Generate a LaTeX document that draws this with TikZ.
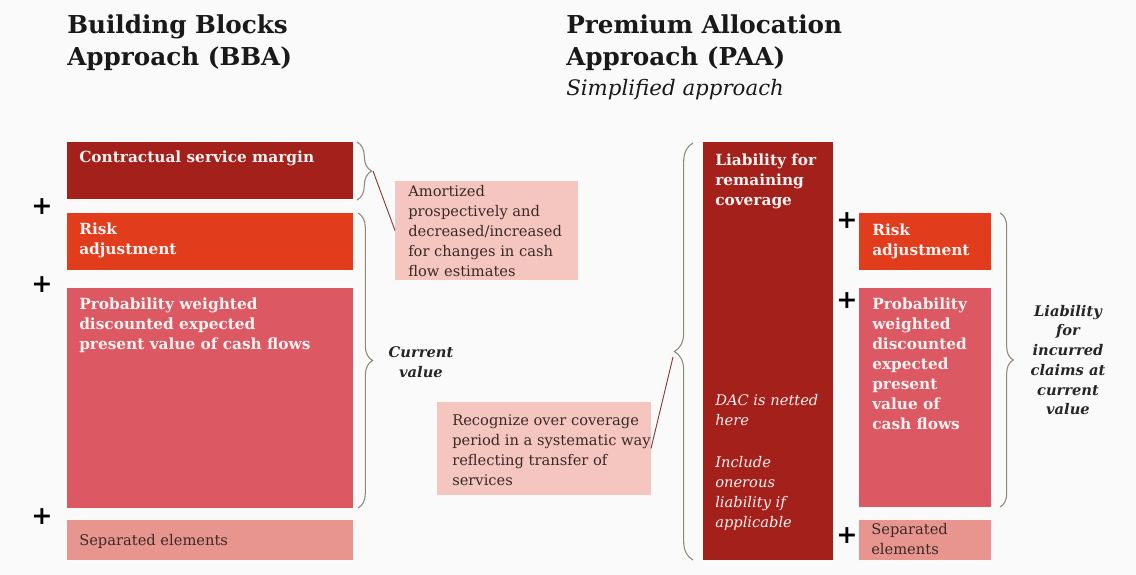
\documentclass[tikz,border=0pt]{standalone}
\usepackage{fontspec}
\setmainfont{DejaVu Serif}
\usetikzlibrary{decorations.pathreplacing,calc}
\definecolor{bgc}{HTML}{FAFAFA}
\definecolor{csmc}{HTML}{A4201B}
\definecolor{rac}{HTML}{E13C1C}
\definecolor{pvc}{HTML}{DC5862}
\definecolor{sepc}{HTML}{E8958F}
\definecolor{notec}{HTML}{F5C6BF}
\definecolor{bracec}{HTML}{8F887A}
\definecolor{linkc}{HTML}{8E3A36}
\definecolor{darktxt}{HTML}{3A2926}
\definecolor{wtxt}{HTML}{FDF3F2}
\newcommand\mkblk[6]{\node[fill=#6,inner sep=0pt,outer sep=0pt,anchor=north west,minimum width={(#4-#2)*0.75pt},minimum height={(#5-#3)*0.75pt}] (#1) at (#2,#3) {};}
\begin{document}
\begin{tikzpicture}[x=0.75pt,y=-0.75pt,
  boxtxt/.style={anchor=north west,inner sep=0pt,align=left,text=wtxt,font=\fontsize{11.5}{15}\selectfont\bfseries},
  boxit/.style={anchor=north west,inner sep=0pt,align=left,text=wtxt,font=\fontsize{11}{15}\selectfont\itshape},
  notetxt/.style={anchor=north west,inner sep=0pt,align=left,text=darktxt,font=\fontsize{11}{15}\selectfont},
  sidetxt/.style={inner sep=0pt,align=center,text=black!85,font=\fontsize{11}{14.8}\selectfont\bfseries\itshape},
  titletxt/.style={anchor=north west,inner sep=0pt,align=left,text=black!90,font=\fontsize{18.5}{24.5}\selectfont\bfseries},
  plussign/.style={inner sep=0pt,text=black,font=\fontsize{19}{19}\selectfont\bfseries},
  bracestyle/.style={decorate,draw=bracec,line width=0.8pt},
  linkline/.style={draw=linkc,line width=0.7pt}
]
\useasboundingbox[fill=bgc] (0,0) rectangle (1136,575);
% titles
\node[titletxt] (bbatitle) at (67,14) {Building Blocks\\Approach (BBA)};
\node[titletxt] (paatitle) at (566,14) {Premium Allocation\\Approach (PAA)};
\node[anchor=north west,inner sep=0pt,text=black!90,font=\fontsize{16}{18}\selectfont\itshape] (paasub) at (566,79) {Simplified approach};
% BBA blocks
\mkblk{csm}{67}{142}{353}{199}{csmc}
\mkblk{raL}{67}{213}{353}{270}{rac}
\mkblk{pvL}{67}{288}{353}{508}{pvc}
\mkblk{sepL}{67}{520}{353}{560}{sepc}
\node[boxtxt] (csmT) at ([shift={(12,9)}]csm.north west) {Contractual service margin};
\node[boxtxt] (raLT) at ([shift={(12,10)}]raL.north west) {Risk\\adjustment};
\node[boxtxt] (pvLT) at ([shift={(12,10)}]pvL.north west) {Probability weighted\\discounted expected\\present value of cash flows};
\node[notetxt,anchor=west] (sepLT) at ([shift={(12,1)}]sepL.west) {Separated elements};
\node[plussign] (p1) at (42,207) {+};
\node[plussign] (p2) at (42,285) {+};
\node[plussign] (p3) at (42,517) {+};
% note box amortized
\mkblk{amort}{395}{181}{578}{280}{notec}
\node[notetxt] (amortT) at ([shift={(13,4)}]amort.north west) {Amortized\\prospectively and\\decreased/increased\\for changes in cash\\flow estimates};
% BBA braces
\draw[bracestyle,decoration={brace,amplitude=11pt}] (357,142) -- (357,200);
\coordinate (b1tip) at (373,171);
\draw[linkline] (b1tip) -- (amort.west);
\draw[bracestyle,decoration={brace,amplitude=11pt}] (358,213) -- (358,508);
\node[sidetxt] (curval) at (421,362) {Current\\value};
% PAA
\mkblk{recog}{437}{402}{651}{495}{notec}
\node[notetxt] (recogT) at ([shift={(15,12)}]recog.north west) {Recognize over coverage\\period in a systematic way\\reflecting transfer of\\services};
\draw[bracestyle,decoration={brace,amplitude=14pt}] (693,560) -- (693,143);
\coordinate (b3tip) at (673,357);
\draw[linkline] (b3tip) -- (recog.east);
\mkblk{lrc}{703}{142}{833}{560}{csmc}
\node[boxtxt] (lrcT) at ([shift={(12,12)}]lrc.north west) {Liability for\\remaining\\coverage};
\node[boxit] (dacT) at ([shift={(12,252)}]lrc.north west) {DAC is netted\\here};
\node[boxit] (oneT) at ([shift={(12,314)}]lrc.north west) {Include\\onerous\\liability if\\applicable};
\mkblk{raR}{859}{213}{991}{270}{rac}
\mkblk{pvR}{859}{288}{991}{507}{pvc}
\mkblk{sepR}{859}{520}{991}{560}{sepc}
\node[boxtxt] (raRT) at ([shift={(13,11)}]raR.north west) {Risk\\adjustment};
\node[boxtxt] (pvRT) at ([shift={(13,10)}]pvR.north west) {Probability\\weighted\\discounted\\expected\\present\\value of\\cash flows};
\node[notetxt] (sepRT) at ([shift={(12,3)}]sepR.north west) {Separated\\elements};
\node[plussign] (p4) at (847,221) {+};
\node[plussign] (p5) at (847,301) {+};
\node[plussign] (p6) at (847,536) {+};
\draw[bracestyle,decoration={brace,amplitude=10pt}] (1000,213) -- (1000,507);
\node[sidetxt] (licT) at (1068,360) {Liability\\for\\incurred\\claims at\\current\\value};
\end{tikzpicture}
\end{document}
